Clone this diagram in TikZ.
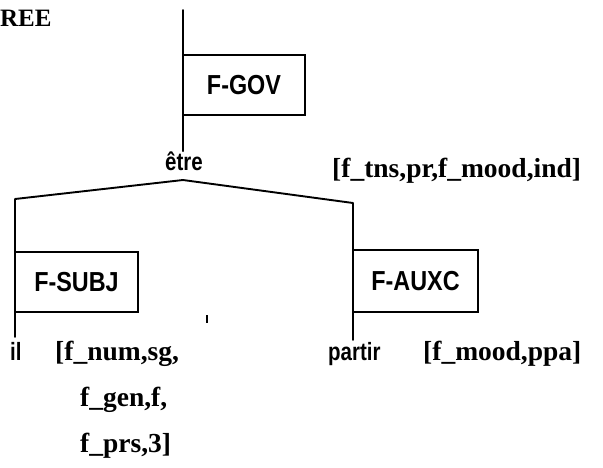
\documentclass[tikz,border=0pt]{standalone}
\usepackage{fontspec}
\setmainfont{Liberation Serif}
\newfontfamily\lblfont{Liberation Sans}[FakeStretch=0.85]
\newfontfamily\wordfont{Liberation Sans}[FakeStretch=0.82]
\begin{document}
\begin{tikzpicture}[x=1pt,y=-1pt,
  treeline/.style={line width=1.9pt, line join=round, line cap=round},
  fbox/.style={draw, line width=1.8pt, inner sep=0pt, minimum height=60pt,
    font=\lblfont\bfseries\fontsize{27.5}{30}\selectfont},
  word/.style={inner sep=0pt, font=\wordfont\bfseries\fontsize{25}{28}\selectfont},
  feat/.style={inner sep=0pt, anchor=base west, font=\bfseries\fontsize{27.5}{30}\selectfont},
  title/.style={inner sep=0pt, anchor=base west, font=\bfseries\fontsize{25}{27}\selectfont}]
\useasboundingbox (0,0) rectangle (603,467);
\fill[white] (0,0) rectangle (603,467);

% title
\node[title] (ree) at (0,26) {REE};

% boxes
\node[fbox, minimum width=122pt] (gov) at (244,85) {F-GOV};
\node[fbox, minimum width=123pt] (subj) at (76.5,282) {F-SUBJ};
\node[fbox, minimum width=125pt, minimum height=62pt] (auxc) at (415.5,281) {F-AUXC};

% words
\node[word, anchor=base] (etre) at (184,170) {être};
\node[word, anchor=base west] (il) at (10,360) {il};
\node[word, anchor=base west] (partir) at (328,360) {partir};

% features
\node[feat] (ftns) at (332,177) {[f\_tns,pr,f\_mood,ind]};
\node[feat] (fnum) at (55,360) {[f\_num,sg,};
\node[feat] (fgen) at (80,406) {f\_gen,f,};
\node[feat] (fprs) at (80,452) {f\_prs,3]};
\node[feat] (fmood) at (423,360) {[f\_mood,ppa]};

% tree lines
\coordinate (top) at (183,10);
\coordinate (apex) at (183,180);
\coordinate (lc) at (15,199);
\coordinate (rc) at (353,203);
\coordinate (lend) at (15,337);
\coordinate (rend) at (353,340);

\draw[treeline] (top) -- (top |- etre.north);
\draw[treeline] (apex) -- (lc) -- (lend);
\draw[treeline] (apex) -- (rc) -- (rend);

% small stray mark
\draw[line width=1.2pt] (207,315) -- (207,323);
\end{tikzpicture}
\end{document}
